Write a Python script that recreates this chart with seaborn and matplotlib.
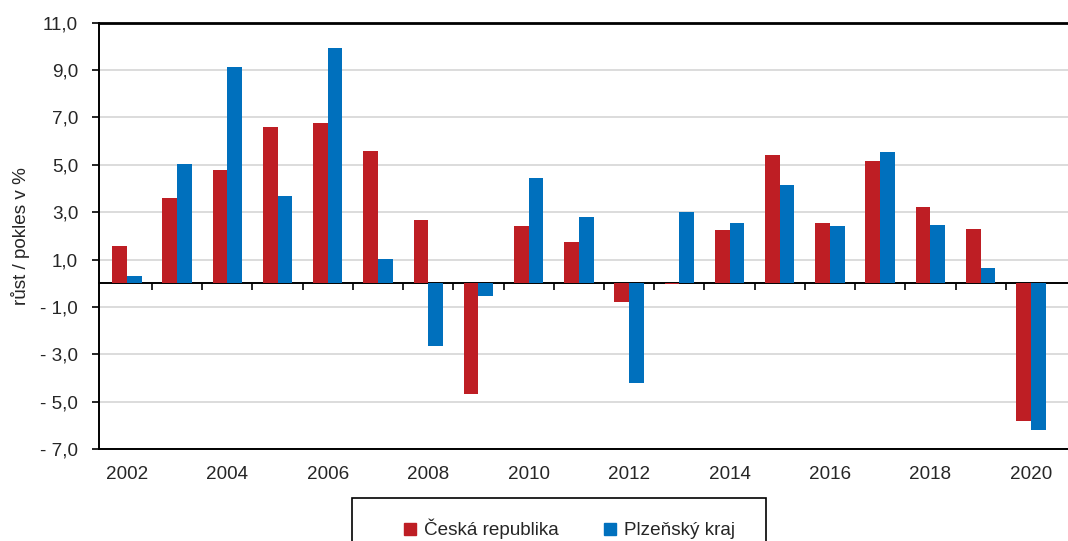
import numpy as np
import pandas as pd
import matplotlib
matplotlib.use("Agg")
import matplotlib.pyplot as plt
from matplotlib.ticker import FuncFormatter
from matplotlib.lines import Line2D
from matplotlib.patches import Rectangle
import seaborn as sns

# Data
years = [str(y) for y in range(2002, 2021)]
ceska_republika = [1.56, 3.58, 4.80, 6.59, 6.76, 5.57, 2.66, -4.68, 2.42, 1.75,
                   -0.79, -0.05, 2.25, 5.40, 2.54, 5.17, 3.20, 2.31, -5.82]
plzensky_kraj = [0.31, 5.02, 9.14, 3.68, 9.92, 1.04, -2.66, -0.54, 4.45, 2.78,
                 -4.20, 2.99, 2.56, 4.14, 2.40, 5.54, 2.46, 0.63, -6.18]
series_names = ["Česká republika", "Plzeňský kraj"]
colors = {"Česká republika": "#BE1E24", "Plzeňský kraj": "#0070BD"}

df = pd.DataFrame({
    "year": years * 2,
    "value": ceska_republika + plzensky_kraj,
    "series": [series_names[0]] * len(years) + [series_names[1]] * len(years),
})

sns.set_style("white")
plt.rcParams["font.family"] = ["Liberation Sans", "DejaVu Sans"]
FS = 13.6

fig = plt.figure(figsize=(10.68, 5.41), dpi=100)
ax = fig.add_axes([0.0927, 0.170, 0.9073, 0.788])

sns.barplot(data=df, x="year", y="value", hue="series", order=years,
            hue_order=series_names, palette=colors, width=0.585,
            saturation=1, linewidth=0, ax=ax, legend=False)

ax.set_ylim(-7, 11)
ax.set_xlim(-0.556, len(years) - 0.26)
ax.set_yticks(np.arange(-7, 12, 2))
ax.yaxis.set_major_formatter(FuncFormatter(
    lambda v, p: ("- " if v < 0 else "") + f"{abs(v):.1f}".replace(".", ",")))

ax.set_xticks(range(0, len(years), 2))
ax.set_xticklabels(years[::2])
ax.tick_params(axis="x", length=0, pad=12, labelsize=FS)
ax.tick_params(axis="y", length=5, width=1.2, direction="out", pad=10,
               labelsize=FS, left=True, color="black")
ax.set_xlabel("")
ax.set_ylabel("růst / pokles v %", fontsize=FS, labelpad=7)

ax.yaxis.grid(True, color="#D9D9D9", lw=1.3)
ax.set_axisbelow(True)

for side in ["left", "bottom"]:
    ax.spines[side].set_color("black")
    ax.spines[side].set_linewidth(1.4)
ax.spines["top"].set_color("black")
ax.spines["top"].set_linewidth(2.0)
ax.spines["right"].set_visible(False)

# zero line with ticks between categories
sec = ax.secondary_xaxis(0, transform=ax.transData)
sec.set_xticks(np.arange(len(years) - 1) + 0.5)
sec.set_xticklabels([])
sec.tick_params(length=5, width=1.2, direction="out", color="black")
sec.spines["bottom"].set_color("black")
sec.spines["bottom"].set_linewidth(1.4)

# legend box (open at the bottom edge of the image)
W, H = 1068, 541
fig.patches.append(Rectangle((352 / W, 1 - 546 / H), (766 - 352) / W, 48 / H,
                             transform=fig.transFigure, fill=False,
                             edgecolor="black", lw=1.2))
handles = [Line2D([], [], marker="s", linestyle="", markersize=8.5,
                  color=colors[n]) for n in series_names]
leg = fig.legend(handles, series_names, loc="center",
                 bbox_to_anchor=(569 / W, 1 - 529 / H), ncol=2, frameon=False,
                 fontsize=FS, borderpad=0, handlelength=0.8,
                 handletextpad=0.35, columnspacing=2.3, borderaxespad=0)

fig.savefig("out.png", dpi=100)
